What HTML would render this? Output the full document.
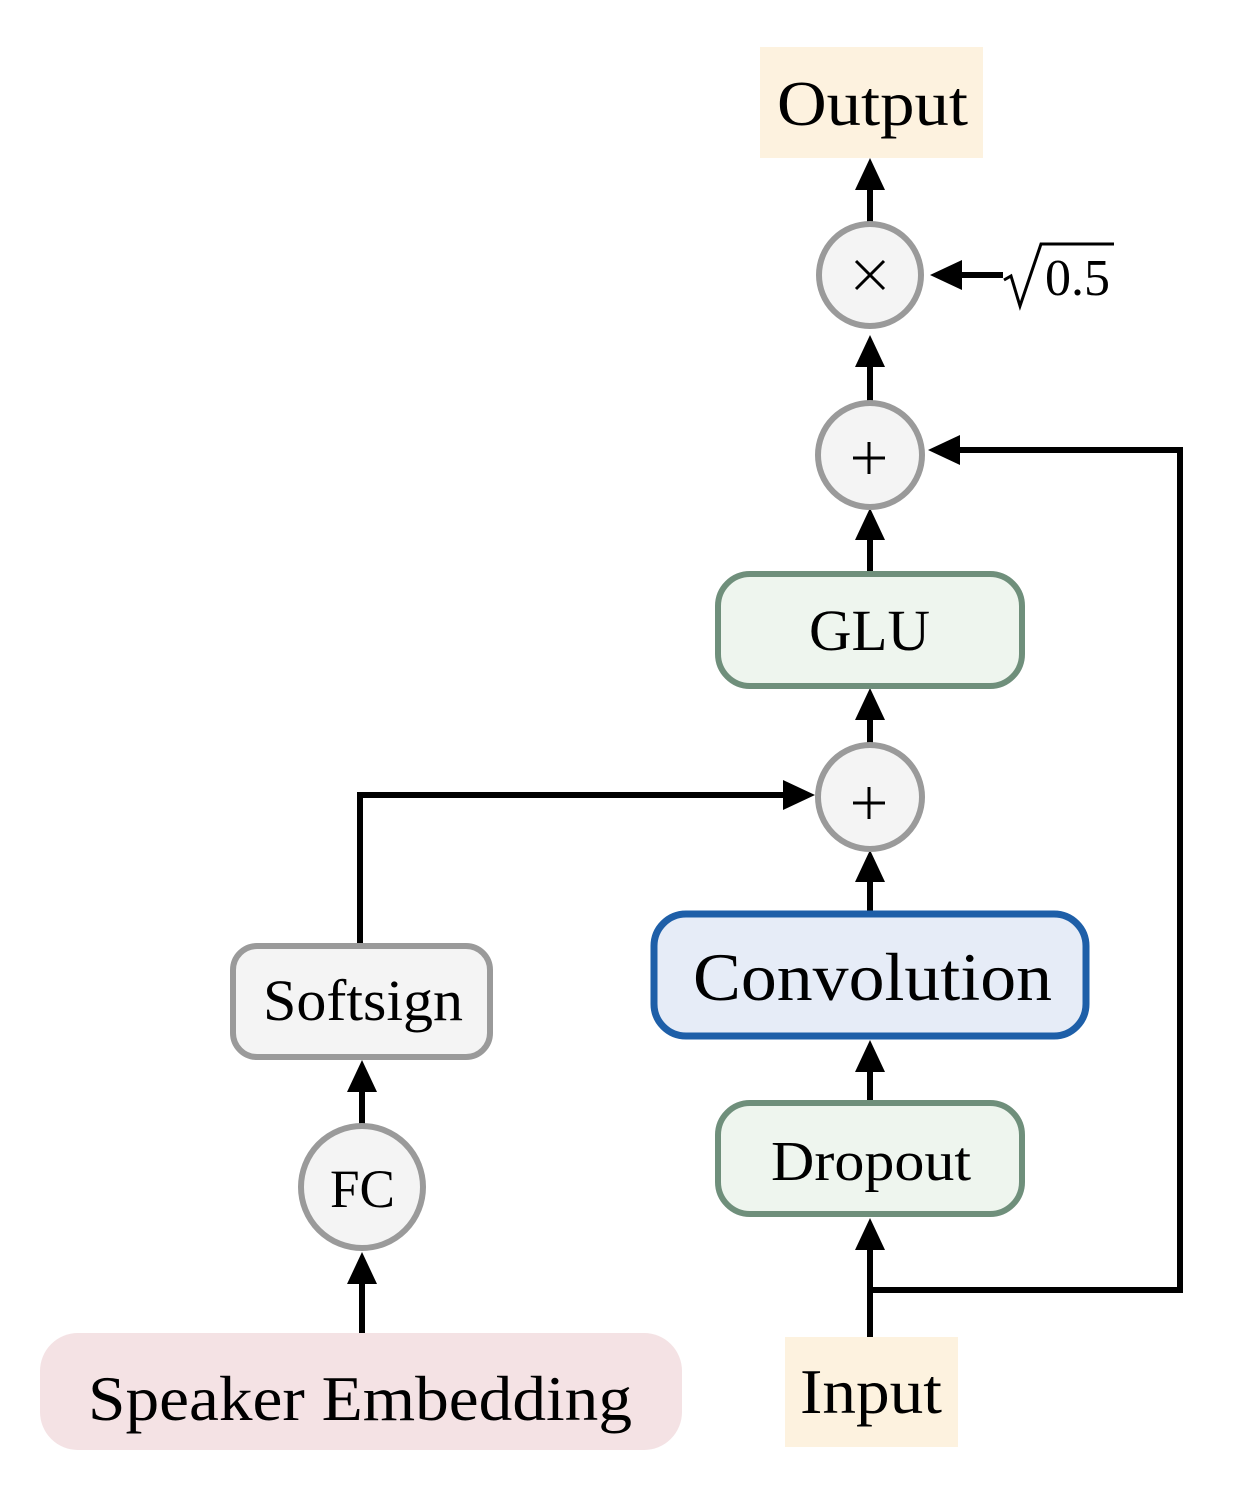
<!DOCTYPE html>
<html><head><style>html,body{margin:0;padding:0;background:#fff}</style></head><body>
<svg width="1234" height="1498" viewBox="0 0 1234 1498" xmlns="http://www.w3.org/2000/svg" font-family="'Liberation Serif', serif">
<g fill="none" stroke="#000" stroke-width="6">
<line x1="870" y1="222" x2="870" y2="185"/>
<line x1="870" y1="402" x2="870" y2="362"/>
<line x1="870" y1="572" x2="870" y2="535"/>
<line x1="870" y1="744" x2="870" y2="715"/>
<line x1="870" y1="912" x2="870" y2="877"/>
<line x1="870" y1="1102" x2="870" y2="1068"/>
<line x1="870" y1="1337" x2="870" y2="1245"/>
<polyline points="870,1290 1180,1290 1180,450 958,450"/>
<polyline points="360,945 360,795 790,795"/>
<line x1="1003" y1="275" x2="955" y2="275"/>
<line x1="362" y1="1125" x2="362" y2="1090"/>
<line x1="362" y1="1333" x2="362" y2="1280"/>
</g>
<g fill="#000">
<polygon points="870,158 855,190 885,190"/>
<polygon points="870,335 855,367 885,367"/>
<polygon points="870,508 855,540 885,540"/>
<polygon points="870,688 855,720 885,720"/>
<polygon points="870,850 855,882 885,882"/>
<polygon points="870,1040 855,1072 885,1072"/>
<polygon points="870,1218 855,1250 885,1250"/>
<polygon points="928,450 960,435 960,465"/>
<polygon points="815,795 783,780 783,810"/>
<polygon points="930,275 962,260 962,290"/>
<polygon points="362,1060 347,1092 377,1092"/>
<polygon points="362,1252 347,1284 377,1284"/>
</g>
<rect x="760" y="47" width="223" height="111" fill="#fdf2df"/>
<text x="777" y="125" font-size="64" textLength="191" lengthAdjust="spacingAndGlyphs">Output</text>
<circle cx="870" cy="275" r="51" fill="#f4f4f4" stroke="#9a9a9a" stroke-width="6"/>
<g stroke="#000" stroke-width="3"><line x1="856" y1="261" x2="884" y2="289"/><line x1="884" y1="261" x2="856" y2="289"/></g>
<path d="M1004,280 L1011,276 L1020,306 L1041,244 L1114,244" fill="none" stroke="#000" stroke-width="3"/>
<text x="1045" y="295" font-size="52">0.5</text>
<circle cx="870" cy="455" r="52" fill="#f4f4f4" stroke="#9a9a9a" stroke-width="6"/>
<g stroke="#000" stroke-width="3"><line x1="853" y1="458" x2="885" y2="458"/><line x1="869" y1="442" x2="869" y2="474"/></g>
<rect x="718" y="574" width="304" height="112" rx="32" fill="#eef5ee" stroke="#6f8f7b" stroke-width="6"/>
<text x="809" y="650" font-size="58" textLength="121" lengthAdjust="spacingAndGlyphs">GLU</text>
<circle cx="870" cy="797" r="52" fill="#f4f4f4" stroke="#9a9a9a" stroke-width="6"/>
<g stroke="#000" stroke-width="3"><line x1="853" y1="803" x2="885" y2="803"/><line x1="869" y1="787" x2="869" y2="819"/></g>
<rect x="654" y="914" width="432" height="122" rx="32" fill="#e6ecf7" stroke="#1e5fa8" stroke-width="7"/>
<text x="693" y="1000" font-size="68" textLength="359" lengthAdjust="spacingAndGlyphs">Convolution</text>
<rect x="718" y="1103" width="304" height="111" rx="32" fill="#eef5ee" stroke="#6f8f7b" stroke-width="6"/>
<text x="771" y="1180" font-size="56" textLength="200" lengthAdjust="spacingAndGlyphs">Dropout</text>
<rect x="785" y="1337" width="173" height="110" fill="#fdf2df"/>
<text x="800" y="1413" font-size="64" textLength="142" lengthAdjust="spacingAndGlyphs">Input</text>
<rect x="233" y="946" width="257" height="111" rx="24" fill="#f4f4f4" stroke="#9a9a9a" stroke-width="6"/>
<text x="263" y="1020" font-size="58" textLength="200" lengthAdjust="spacingAndGlyphs">Softsign</text>
<circle cx="362" cy="1187" r="61" fill="#f4f4f4" stroke="#9a9a9a" stroke-width="6"/>
<text x="330" y="1207" font-size="54" textLength="65" lengthAdjust="spacingAndGlyphs">FC</text>
<rect x="40" y="1333" width="642" height="117" rx="38" fill="#f4e2e4"/>
<text x="88" y="1420" font-size="64" textLength="544" lengthAdjust="spacingAndGlyphs">Speaker Embedding</text>
</svg>
</body></html>
